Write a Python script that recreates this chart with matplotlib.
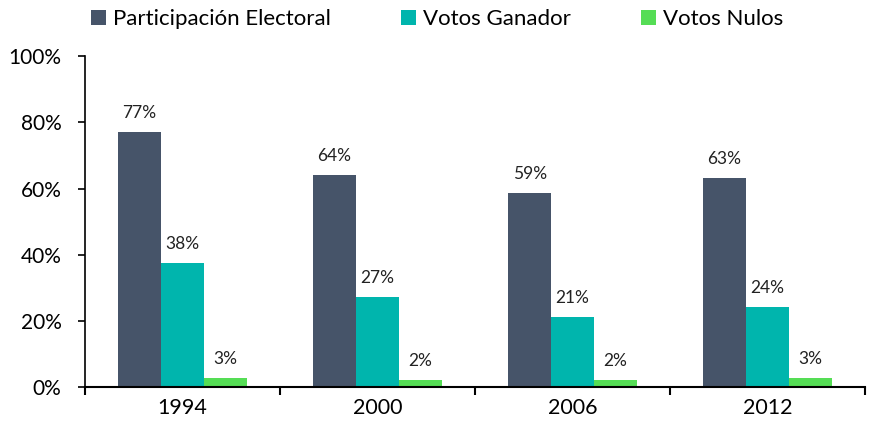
import matplotlib
matplotlib.use("Agg")
import matplotlib.pyplot as plt
import numpy as np

plt.rcParams['font.family'] = ['Lato', 'DejaVu Sans']

years = ["1994", "2000", "2006", "2012"]
series_names = ["Participación Electoral", "Votos Ganador", "Votos Nulos"]
participacion = [77.2, 64.0, 58.6, 63.1]
ganador = [37.5, 27.2, 21.0, 24.1]
nulos = [2.7, 2.1, 2.1, 2.6]
colors = ["#465469", "#00B5AD", "#55DD55"]

fig = plt.figure(figsize=(8.72, 4.29), dpi=100)
ax = fig.add_axes([0.0975, 0.098, 0.8945, 0.771])

x = np.arange(len(years))
w = 0.22
data = [participacion, ganador, nulos]
for i, (vals, name, c) in enumerate(zip(data, series_names, colors)):
    pos = x + (i - 1) * w
    bars = ax.bar(pos, vals, width=w, color=c, label=name)
    for xi, v in zip(pos, vals):
        ax.annotate(f"{round(v):.0f}%", (xi, v), xytext=(0, 8), textcoords="offset points",
                    ha="center", va="bottom", fontsize=12.5, color="#222222")

ax.set_xlim(-0.5, len(years) - 0.5)
ax.set_ylim(0, 100)
ax.set_yticks([0, 20, 40, 60, 80, 100])
ax.set_yticklabels([f"{t}%" for t in [0, 20, 40, 60, 80, 100]], fontsize=15)
ax.set_xticks(np.arange(-0.5, len(years), 1.0))
ax.set_xticklabels([])
ax.set_xticks(x, minor=True)
ax.set_xticklabels(years, minor=True, fontsize=15.5)
ax.tick_params(axis='x', which='major', length=6, width=1.5, direction='out')
ax.tick_params(axis='x', which='minor', length=0, pad=8)
ax.tick_params(axis='y', length=5, width=1.2, direction='out', pad=12)

for s in ["top", "right"]:
    ax.spines[s].set_visible(False)
ax.spines["left"].set_linewidth(1.2)
ax.spines["bottom"].set_linewidth(1.5)

leg = fig.legend(loc="upper center", bbox_to_anchor=(0.501, 1.025), ncol=3, frameon=False,
                 fontsize=16, handlelength=0.7, handleheight=0.7, handletextpad=0.3,
                 columnspacing=3.15)

fig.savefig("out.png", dpi=100)
